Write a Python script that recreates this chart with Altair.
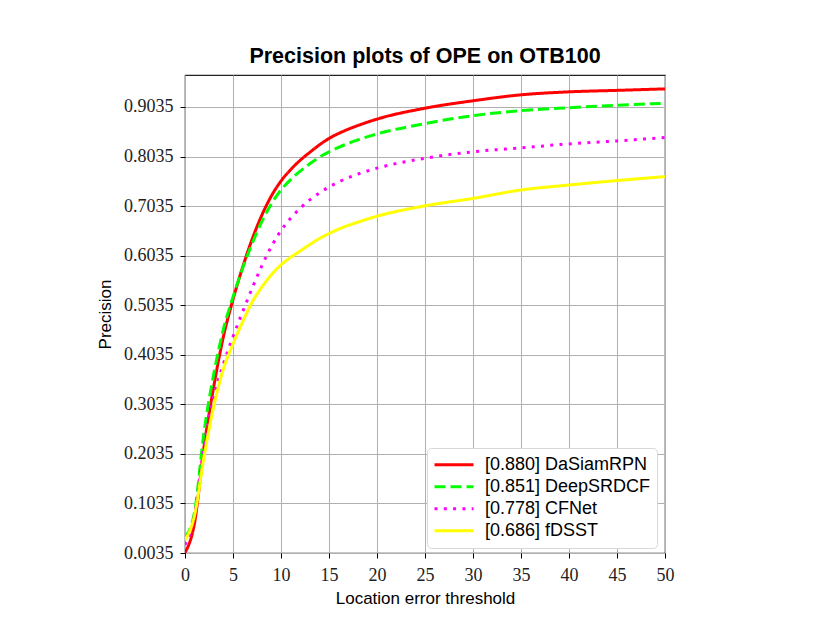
import altair as alt
import pandas as pd

thresholds = [0, 1, 2, 3, 4, 5, 6, 7, 8, 9, 10, 11, 12, 13, 14, 15, 16, 18, 20, 25, 30, 35, 40, 45, 50]
dasiam = [0.004, 0.065, 0.22, 0.34, 0.44, 0.515, 0.58, 0.637, 0.685, 0.724, 0.754, 0.777, 0.796, 0.812, 0.827, 0.840, 0.850, 0.866, 0.879, 0.901, 0.916, 0.928, 0.934, 0.937, 0.940]
deepsrdcf = [0.035, 0.087, 0.25, 0.365, 0.455, 0.52, 0.578, 0.628, 0.672, 0.708, 0.736, 0.757, 0.774, 0.789, 0.802, 0.813, 0.822, 0.837, 0.849, 0.870, 0.886, 0.896, 0.902, 0.907, 0.911]
cfnet = [0.02, 0.08, 0.22, 0.32, 0.385, 0.44, 0.49, 0.538, 0.583, 0.622, 0.654, 0.679, 0.699, 0.716, 0.730, 0.742, 0.752, 0.768, 0.780, 0.800, 0.813, 0.821, 0.829, 0.835, 0.842]
fdsst = [0.03, 0.08, 0.2, 0.30, 0.375, 0.425, 0.47, 0.51, 0.54, 0.565, 0.585, 0.600, 0.613, 0.626, 0.638, 0.648, 0.657, 0.671, 0.683, 0.704, 0.719, 0.736, 0.746, 0.755, 0.763]

labels = ["[0.880] DaSiamRPN", "[0.851] DeepSRDCF", "[0.778] CFNet", "[0.686] fDSST"]
series = [dasiam, deepsrdcf, cfnet, fdsst]
colors = ["#ff0000", "#00ff00", "#ff00ff", "#ffff00"]
dashes = [[1, 0], [11, 5], [3, 6.3], [1, 0]]
y_ticks = [0.0035, 0.1035, 0.2035, 0.3035, 0.4035, 0.5035, 0.6035, 0.7035, 0.8035, 0.9035]
x_ticks = [0, 5, 10, 15, 20, 25, 30, 35, 40, 45, 50]

rows = []
for lab, vals in zip(labels, series):
    for t, v in zip(thresholds, vals):
        rows.append({"threshold": t, "precision": v, "tracker": lab})
df = pd.DataFrame(rows)

leg = dict(title=None, orient="none", legendX=242, legendY=373)

chart = alt.Chart(df).mark_line(strokeWidth=3, interpolate="monotone", clip=True).encode(
    x=alt.X("threshold:Q", scale=alt.Scale(domain=[0, 50], nice=False),
            axis=alt.Axis(values=x_ticks, title="Location error threshold", format="d",
                          labelFlush=False)),
    y=alt.Y("precision:Q", scale=alt.Scale(domain=[0.0035, 0.968], nice=False, zero=False),
            axis=alt.Axis(values=y_ticks, title="Precision", format=".4f", labelFlush=False)),
    color=alt.Color("tracker:N", scale=alt.Scale(domain=labels, range=colors),
                    legend=alt.Legend(**leg)),
    strokeDash=alt.StrokeDash("tracker:N", scale=alt.Scale(domain=labels, range=dashes),
                              legend=alt.Legend(**leg)),
).properties(
    width=480, height=478,
    title=alt.TitleParams("Precision plots of OPE on OTB100", font="Liberation Sans",
                          fontSize=21.5, fontWeight="bold", color="#000000", offset=8),
    autosize=alt.AutoSizeParams(type="none"),
    padding={"left": 177, "top": 67, "right": 140, "bottom": 60},
).configure_view(
    stroke="#222222", strokeWidth=1.2
).configure_axis(
    grid=True, gridColor="#b0b0b0", gridWidth=1,
    domain=False, tickColor="#000000", tickSize=5, tickWidth=1,
    labelFont="Liberation Serif", labelFontSize=18, labelColor="#222222",
    titleFont="Liberation Sans", titleFontSize=17, titleFontWeight="normal", titleColor="#000000",
).configure_axisY(
    titlePadding=9, labelPadding=7
).configure_axisX(
    titlePadding=6, labelPadding=8
).configure_legend(
    labelFont="Liberation Sans", labelFontSize=18, labelColor="#000000", labelLimit=300,
    symbolType="stroke", symbolStrokeWidth=3, symbolSize=1521,
    fillColor="#ffffff", strokeColor="#d8d8d8", cornerRadius=4, padding=6,
    rowPadding=0, clipHeight=21.7, labelOffset=10
)

chart.save("out.html", embed_options={"renderer": "svg", "actions": False})
